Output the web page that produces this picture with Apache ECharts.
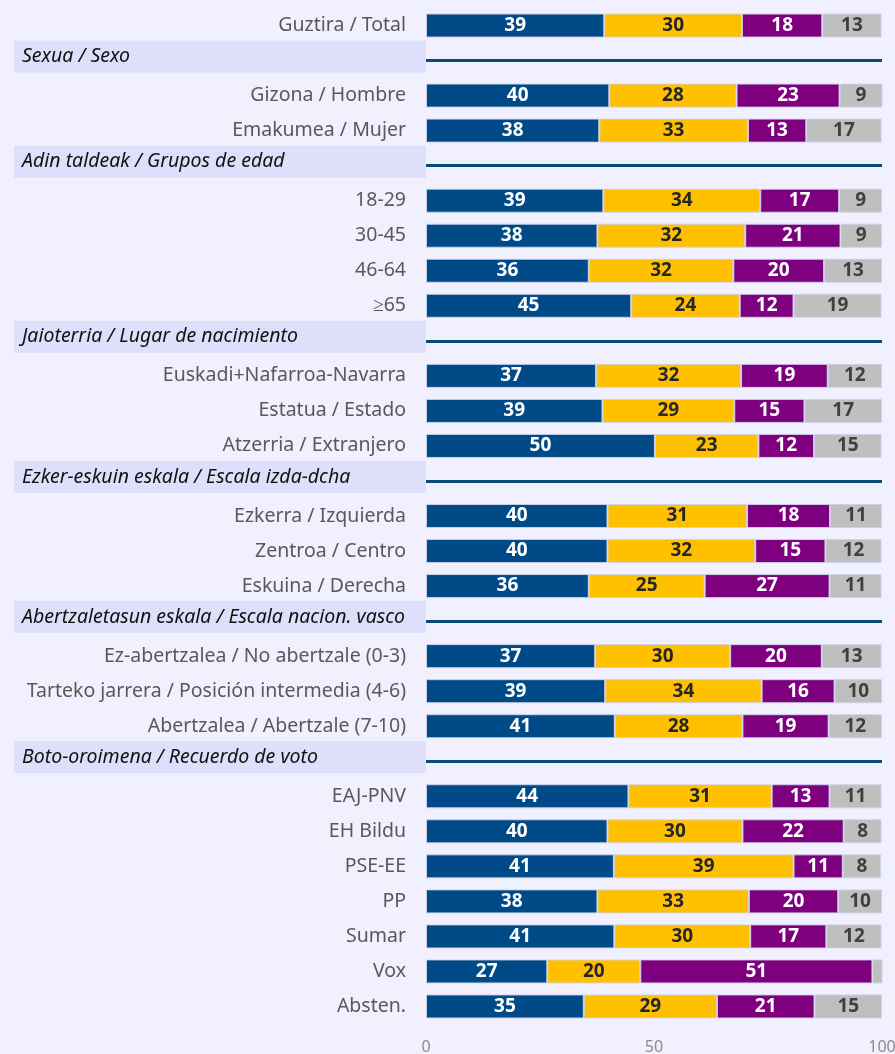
<!DOCTYPE html>
<html>
<head>
<meta charset="utf-8">
<script src="https://cdn.jsdelivr.net/npm/echarts@6/dist/echarts.min.js"></script>
<style>
  html, body { margin: 0; padding: 0; background: #f0f0fe; }
  #chart { width: 895px; height: 1054px; }
</style>
</head>
<body>
<div id="chart"></div>
<script>
  // categories top to bottom, '#' marks a section header row
  var categories = [
    'Guztira / Total',
    '#Sexua / Sexo',
    'Gizona / Hombre', 'Emakumea / Mujer',
    '#Adin taldeak / Grupos de edad',
    '18-29', '30-45', '46-64', '≥65',
    '#Jaioterria / Lugar de nacimiento',
    'Euskadi+Nafarroa-Navarra', 'Estatua / Estado', 'Atzerria / Extranjero',
    '#Ezker-eskuin eskala / Escala izda-dcha',
    'Ezkerra / Izquierda', 'Zentroa / Centro', 'Eskuina / Derecha',
    '#Abertzaletasun eskala / Escala nacion. vasco',
    'Ez-abertzalea / No abertzale (0-3)', 'Tarteko jarrera / Posición intermedia (4-6)', 'Abertzalea / Abertzale (7-10)',
    '#Boto-oroimena / Recuerdo de voto',
    'EAJ-PNV', 'EH Bildu', 'PSE-EE', 'PP', 'Sumar', 'Vox', 'Absten.'
  ];

  var blueVals   = [39.1, '-', 40.2, 38.0, '-', 38.9, 37.6, 35.7, 45.0, '-', 37.3, 38.7, 50.2, '-', 39.8, 39.8, 35.7, '-', 37.1, 39.3, 41.4, '-', 44.4, 39.8, 41.2, 37.6, 41.3, 26.6, 34.6];
  var yellowVals = [30.2, '-', 27.9, 32.6, '-', 34.4, 32.4, 31.7, 23.8, '-', 31.8, 28.9, 22.7, '-', 30.6, 32.4, 25.4, '-', 29.6, 34.3, 28.0, '-', 31.4, 29.6, 39.4, 33.2, 29.8, 20.4, 29.2];
  var purpleVals = [17.6, '-', 22.6, 12.8, '-', 17.3, 20.9, 19.9, 11.8, '-', 19.0, 15.4, 12.2, '-', 18.2, 15.4, 27.4, '-', 20.1, 16.0, 18.9, '-', 12.7, 22.2, 10.8, 19.6, 16.7, 50.9, 21.4];
  var grayVals   = [13.0, '-', 9.4, 16.5, '-', 9.4, 9.1, 12.7, 19.3, '-', 11.9, 17.0, 14.8, '-', 11.4, 12.3, 11.4, '-', 13.1, 10.4, 11.7, '-', 11.4, 8.3, 8.4, 9.6, 12.1, 2.3, 14.8];

  var xTicks = [0, 50, 100];

  var headers = categories.filter(function (c) { return c.charAt(0) === '#'; });

  var chart = echarts.init(document.getElementById('chart'));

  function makeSeries(name, vals, color, textColor) {
    return {
      name: name,
      type: 'bar',
      stack: 'all',
      data: vals,
      barWidth: 24,
      itemStyle: { color: color, borderColor: 'rgba(205,210,232,0.9)', borderWidth: 1 },
      label: {
        show: true,
        position: 'inside',
        color: textColor,
        fontFamily: 'Noto Sans',
        fontWeight: 'bold',
        fontSize: 19,
        formatter: function (p) {
          return p.value >= 3 ? Math.round(p.value) : '';
        }
      },
      emphasis: { disabled: true },
      animation: false
    };
  }

  var series = [
    makeSeries('a', blueVals, '#004b87', '#ffffff'),
    makeSeries('b', yellowVals, '#ffc000', '#262626'),
    makeSeries('c', purpleVals, '#7f007f', '#ffffff'),
    makeSeries('d', grayVals, '#bfbfbf', '#404040')
  ];
  // dark line across the plot on each section header row
  series[0].markLine = {
    silent: true,
    symbol: 'none',
    animation: false,
    label: { show: false },
    lineStyle: { color: '#0c4a7a', width: 3, type: 'solid' },
    data: headers.map(function (h) {
      return [{ coord: [0, h] }, { coord: [100, h] }];
    })
  };

  var option = {
    backgroundColor: '#f0f0fe',
    grid: { left: 426, right: 13, top: 8, bottom: 30, outerBoundsMode: 'none' },
    xAxis: {
      type: 'value',
      min: xTicks[0],
      max: xTicks[xTicks.length - 1],
      interval: 50,
      axisLine: { show: false },
      axisTick: { show: false },
      splitLine: { show: false },
      axisLabel: { color: '#8c8c8c', fontSize: 16, fontFamily: 'Noto Sans', margin: 15 }
    },
    yAxis: {
      type: 'category',
      inverse: true,
      data: categories,
      axisLine: { show: false },
      axisTick: { show: false },
      axisLabel: {
        interval: 0,
        margin: 0,
        formatter: function (v) {
          if (v.charAt(0) === '#') return '{h|' + v.slice(1) + '}\n{sp|}';
          return '{n|' + v + '}';
        },
        rich: {
          n: { color: '#595959', fontSize: 19.5, fontFamily: 'Noto Sans', padding: [0, 20, 0, 0] },
          h: {
            color: '#111111', fontSize: 19.5, fontFamily: 'Noto Sans', fontStyle: 'italic',
            backgroundColor: '#dfdffb', width: 404, height: 32, padding: [0, 0, 0, 8], align: 'left'
          },
          sp: { height: 8, fontSize: 1 }
        }
      }
    },
    series: series
  };

  chart.setOption(option);
</script>
</body>
</html>
